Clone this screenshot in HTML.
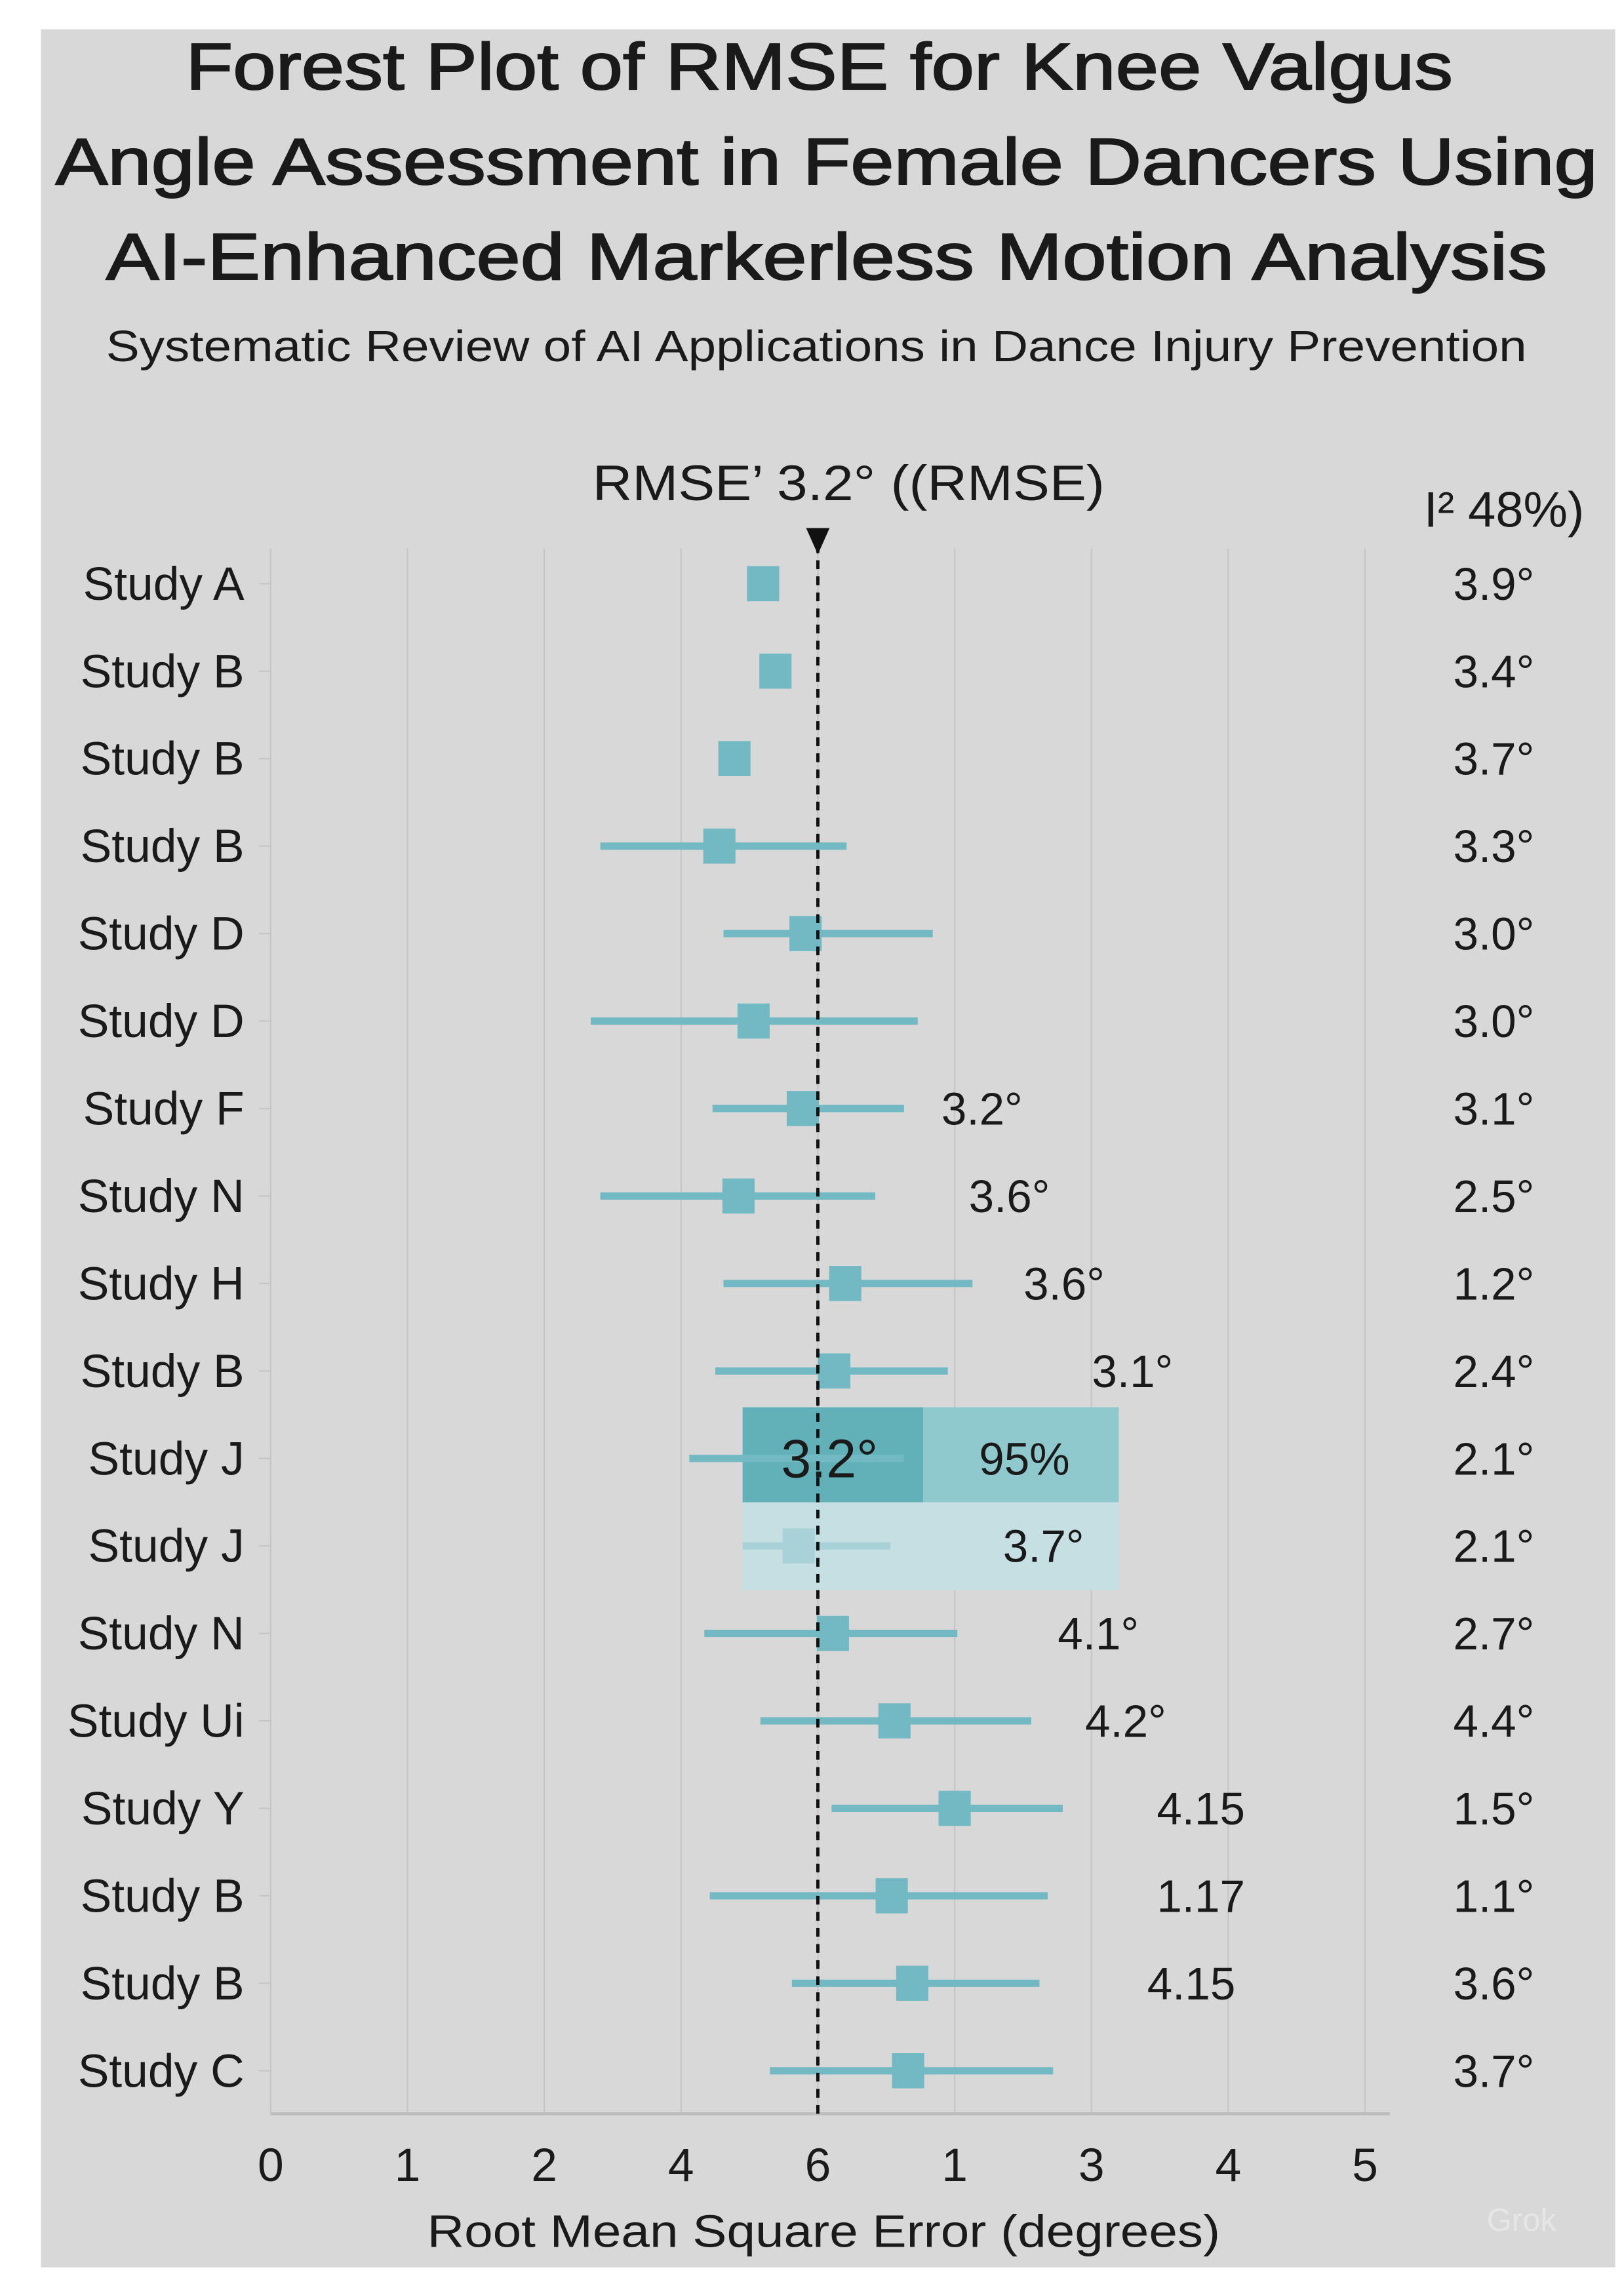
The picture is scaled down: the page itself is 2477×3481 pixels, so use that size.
<!DOCTYPE html>
<html><head><meta charset="utf-8"><style>
html,body{margin:0;padding:0;background:#fff;}
svg{display:block;}
text{font-family:"Liberation Sans","DejaVu Sans",sans-serif;fill:#1a1a1a;}
</style></head><body>
<svg id="chart" width="2477" height="3481" viewBox="0 0 1110 1560" preserveAspectRatio="none" xmlns="http://www.w3.org/2000/svg">
<rect x="0" y="0" width="1110" height="1560" fill="#ffffff"/>
<rect x="28" y="20" width="1076" height="1530" fill="#d8d8d8"/>
<g text-anchor="middle" font-size="45" stroke="#1a1a1a" stroke-width="0.9">
<text x="560" y="61" textLength="866" lengthAdjust="spacingAndGlyphs">Forest Plot of RMSE for Knee Valgus</text>
<text x="565" y="126" textLength="1054" lengthAdjust="spacingAndGlyphs">Angle Assessment in Female Dancers Using</text>
<text x="565" y="191" textLength="985" lengthAdjust="spacingAndGlyphs">AI-Enhanced Markerless Motion Analysis</text>
</g>
<text x="558" y="247" text-anchor="middle" font-size="30" textLength="971" lengthAdjust="spacingAndGlyphs">Systematic Review of AI Applications in Dance Injury Prevention</text>
<text x="580" y="342" text-anchor="middle" font-size="34" textLength="350" lengthAdjust="spacingAndGlyphs">RMSE’ 3.2° ((RMSE)</text>
<text x="1028" y="360" text-anchor="middle" font-size="34">I² 48%)</text>
<g id="grid"></g>
<g id="box"></g>
<g id="marks"></g>
<g id="labels"></g>
<text x="563" y="1536" text-anchor="middle" font-size="31" textLength="542" lengthAdjust="spacingAndGlyphs">Root Mean Square Error (degrees)</text>
<text x="1040" y="1525" text-anchor="middle" font-size="22" style="fill:#e6e6e6">Grok</text>
</svg>
<script>
const studies=["Study A","Study B","Study B","Study B","Study D","Study D","Study F","Study N","Study H","Study B","Study J","Study J","Study N","Study Ui","Study Y","Study B","Study B","Study C"];
const points=[3.60,3.69,3.39,3.28,3.91,3.53,3.89,3.42,4.20,4.12,4.0,3.86,4.11,4.56,5.00,4.54,4.69,4.66];
const ciLow=[3.60,3.69,3.39,2.41,3.31,2.34,3.23,2.41,3.31,3.25,3.06,3.45,3.17,3.58,4.10,3.21,3.81,3.65];
const ciHigh=[3.60,3.69,3.39,4.21,4.84,4.73,4.63,4.42,5.13,4.95,4.63,4.53,5.02,5.56,5.79,5.68,5.62,5.72];
const midLabels=["","","","","","","3.2°","3.6°","3.6°","3.1°","","3.7°","4.1°","4.2°","4.15","1.17","4.15",""];
const midLabelPos=[0,0,0,0,0,0,5.2,5.4,5.8,6.3,0,5.65,6.05,6.25,6.8,6.8,6.73,0];
const rightValues=["3.9°","3.4°","3.7°","3.3°","3.0°","3.0°","3.1°","2.5°","1.2°","2.4°","2.1°","2.1°","2.7°","4.4°","1.5°","1.1°","3.6°","3.7°"];
const tickLabels=["0","1","2","4","6","1","3","4","5"];
const pooled=4.0;
const boxLow=3.45, boxMid=4.77, boxHigh=6.2;

const NS="http://www.w3.org/2000/svg";
const x=u=>185+u*93.5;
const y=i=>399+i*59.8;
function el(tag,attrs,parent,txt){const e=document.createElementNS(NS,tag);for(const k in attrs)e.setAttribute(k,attrs[k]);if(txt!==undefined)e.textContent=txt;parent.appendChild(e);return e;}
const grid=document.getElementById('grid'),marks=document.getElementById('marks'),labels=document.getElementById('labels'),box=document.getElementById('box');
const bottom=1445;
tickLabels.forEach((t,k)=>{
  const g=el('line',{x1:x(k),x2:x(k),y1:375,y2:bottom,stroke:'#c6c6c6','stroke-width':1},grid);
  
  
  const tl=el('text',{x:x(k),y:1491,'text-anchor':'middle','font-size':32},grid,t);
  
  
});
const ax=el('line',{x1:x(0),x2:x(8)+17,y1:bottom,y2:bottom,stroke:'#bdbdbd','stroke-width':2},grid);


const b1=el('rect',{x:x(boxLow),y:y(10)-35,width:x(boxMid)-x(boxLow),height:65,fill:'#62b1b8'},box);


const b2=el('rect',{x:x(boxMid),y:y(10)-35,width:x(boxHigh)-x(boxMid),height:65,fill:'#8fc9ce'},box);


const b3=el('rect',{x:x(boxLow),y:y(10)+30,width:x(boxHigh)-x(boxLow),height:60,fill:'#c5dfe3'},box);


studies.forEach((s,i)=>{
  const yy=y(i);
  const faint=i===11;
  const col=faint?'#a9d2d8':'#72b9c4';
  const tk=el('line',{x1:x(0)-8,x2:x(0),y1:yy,y2:yy,stroke:'#c6c6c6','stroke-width':1},labels);
  
  
  const lb=el('text',{x:167,y:yy+11,'text-anchor':'end','font-size':32},labels,s);
  
  
  if(ciHigh[i]>ciLow[i]){
    const ci=el('line',{x1:x(ciLow[i]),x2:x(ciHigh[i]),y1:yy,y2:yy,stroke:col,'stroke-width':5},marks);
    
    
  }
  if(i!==10){
    const sq=el('rect',{x:x(points[i])-11,y:yy-12,width:22,height:24,fill:col},marks);
    
    
  }
  if(midLabels[i]){
    const ml=el('text',{x:x(midLabelPos[i]),y:yy+11,'text-anchor':'middle','font-size':31},labels,midLabels[i]);
    
    
  }
  const rv=el('text',{x:1021,y:yy+11,'text-anchor':'middle','font-size':31},labels,rightValues[i]);
  
  
});
const pl=el('text',{x:x(pooled)+8,y:y(10)+13,'text-anchor':'middle','font-size':37},labels,'3.2°');


const pc=el('text',{x:x(5.51),y:y(10)+11,'text-anchor':'middle','font-size':31},labels,'95%');


const dl=el('line',{x1:x(pooled),x2:x(pooled),y1:372,y2:bottom,stroke:'#111','stroke-width':2.2,'stroke-dasharray':'6,5'},labels);


const tri=el('polygon',{points:`${x(pooled)-8},361 ${x(pooled)+8},361 ${x(pooled)},379`,fill:'#111'},labels);


</script>
</body></html>
